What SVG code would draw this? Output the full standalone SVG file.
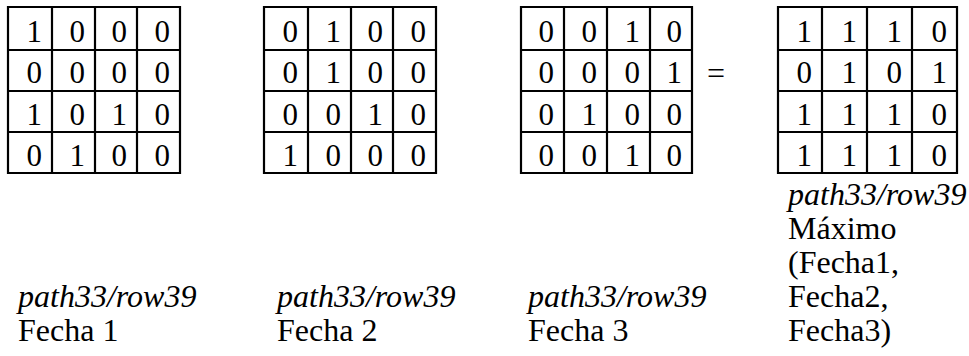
<svg xmlns="http://www.w3.org/2000/svg" width="969" height="356" viewBox="0 0 969 356">
<style>
.g{fill:none;stroke:#000;stroke-width:2.2}
.d{font-family:"Liberation Serif","Times New Roman",serif;font-size:31px;fill:#000;text-anchor:end}
.t{font-family:"Liberation Serif","Times New Roman",serif;font-size:32px;fill:#000}
.i{font-style:italic}
</style>
<rect width="969" height="356" fill="#fff"/>
<g id="matrix1">
<path class="g" d="M8,7H180V173H8Z M52,7V173 M95,7V173 M137,7V173 M8,50H180 M8,91H180 M8,132H180"/>
<text class="d" x="42" y="42">1</text><text class="d" x="85" y="42">0</text><text class="d" x="127" y="42">0</text><text class="d" x="170" y="42">0</text>
<text class="d" x="42" y="83">0</text><text class="d" x="85" y="83">0</text><text class="d" x="127" y="83">0</text><text class="d" x="170" y="83">0</text>
<text class="d" x="42" y="125">1</text><text class="d" x="85" y="125">0</text><text class="d" x="127" y="125">1</text><text class="d" x="170" y="125">0</text>
<text class="d" x="42" y="166">0</text><text class="d" x="85" y="166">1</text><text class="d" x="127" y="166">0</text><text class="d" x="170" y="166">0</text>
</g>
<g id="matrix2">
<path class="g" d="M264,7H436V173H264Z M308,7V173 M351,7V173 M393,7V173 M264,50H436 M264,91H436 M264,132H436"/>
<text class="d" x="298" y="42">0</text><text class="d" x="341" y="42">1</text><text class="d" x="383" y="42">0</text><text class="d" x="426" y="42">0</text>
<text class="d" x="298" y="83">0</text><text class="d" x="341" y="83">1</text><text class="d" x="383" y="83">0</text><text class="d" x="426" y="83">0</text>
<text class="d" x="298" y="125">0</text><text class="d" x="341" y="125">0</text><text class="d" x="383" y="125">1</text><text class="d" x="426" y="125">0</text>
<text class="d" x="298" y="166">1</text><text class="d" x="341" y="166">0</text><text class="d" x="383" y="166">0</text><text class="d" x="426" y="166">0</text>
</g>
<g id="matrix3">
<path class="g" d="M521,7H692V173H521Z M564,7V173 M607,7V173 M650,7V173 M521,50H692 M521,91H692 M521,132H692"/>
<text class="d" x="554" y="42">0</text><text class="d" x="597" y="42">0</text><text class="d" x="640" y="42">1</text><text class="d" x="682" y="42">0</text>
<text class="d" x="554" y="83">0</text><text class="d" x="597" y="83">0</text><text class="d" x="640" y="83">0</text><text class="d" x="682" y="83">1</text>
<text class="d" x="554" y="125">0</text><text class="d" x="597" y="125">1</text><text class="d" x="640" y="125">0</text><text class="d" x="682" y="125">0</text>
<text class="d" x="554" y="166">0</text><text class="d" x="597" y="166">0</text><text class="d" x="640" y="166">1</text><text class="d" x="682" y="166">0</text>
</g>
<g id="equals">
<text class="t" x="716" y="84" text-anchor="middle">=</text>
</g>
<g id="matrix4">
<path class="g" d="M778,7H957V173H778Z M822,7V173 M867,7V173 M912,7V173 M778,50H957 M778,91H957 M778,132H957"/>
<text class="d" x="812" y="42">1</text><text class="d" x="857" y="42">1</text><text class="d" x="902" y="42">1</text><text class="d" x="947" y="42">0</text>
<text class="d" x="812" y="83">0</text><text class="d" x="857" y="83">1</text><text class="d" x="902" y="83">0</text><text class="d" x="947" y="83">1</text>
<text class="d" x="812" y="125">1</text><text class="d" x="857" y="125">1</text><text class="d" x="902" y="125">1</text><text class="d" x="947" y="125">0</text>
<text class="d" x="812" y="166">1</text><text class="d" x="857" y="166">1</text><text class="d" x="902" y="166">1</text><text class="d" x="947" y="166">0</text>
</g>
<g id="label1">
<text class="t i" x="18" y="307">path33/row39</text>
<text class="t" x="18" y="341">Fecha 1</text>
</g>
<g id="label2">
<text class="t i" x="277" y="307">path33/row39</text>
<text class="t" x="277" y="341">Fecha 2</text>
</g>
<g id="label3">
<text class="t i" x="528" y="307">path33/row39</text>
<text class="t" x="528" y="341">Fecha 3</text>
</g>
<g id="label4">
<text class="t i" x="788" y="205">path33/row39</text>
<text class="t" x="788" y="239">Máximo</text>
<text class="t" x="788" y="273">(Fecha1,</text>
<text class="t" x="788" y="307">Fecha2,</text>
<text class="t" x="788" y="341">Fecha3)</text>
</g>
<g id="connectors"></g>
</svg>
